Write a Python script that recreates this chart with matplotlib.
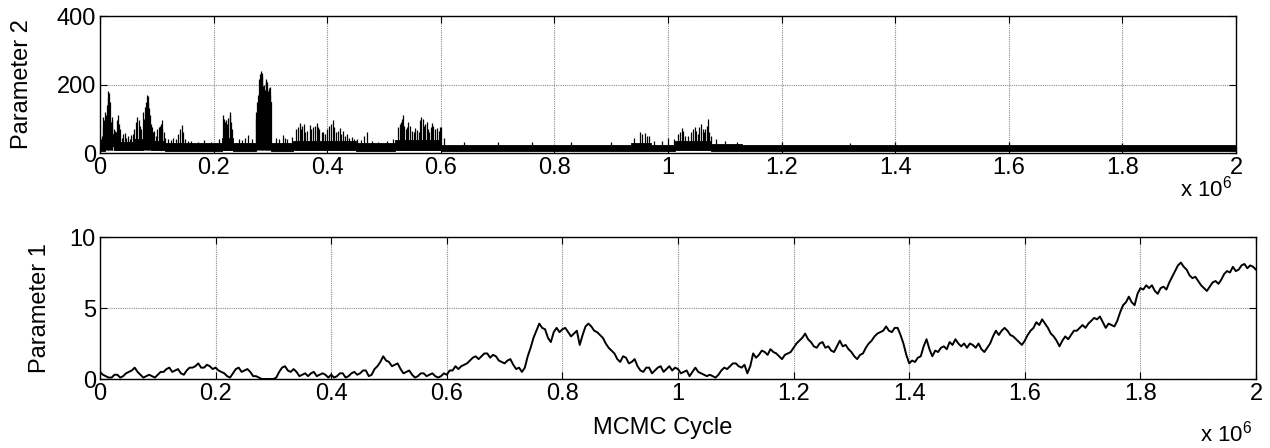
import matplotlib

matplotlib.use('Agg')

import matplotlib.pyplot as plt
import numpy as np

plt.rcParams['font.family'] = ['Liberation Sans', 'DejaVu Sans']
plt.rcParams['mathtext.fontset'] = 'custom'
plt.rcParams['mathtext.rm'] = 'Liberation Sans'

# parameter 1 trace: values on the 10000-cycle grid and the points halfway between
p1_value = [
    0.5, 0.2, 0.1, 0.3, 0.2, 0.5, 0.8, 0.3, 0.2, 0.2,
    0.3, 0.5, 0.8, 0.6, 0.4, 0.6, 0.8, 1.1, 0.8, 0.9,
    0.8, 0.5, 0.2, 0.4, 0.8, 0.6, 0.5, 0.2, 0.0, 0.0,
    0.0, 0.5, 0.9, 0.5, 0.5, 0.3, 0.2, 0.5, 0.3, 0.3,
    0.3, 0.2, 0.4, 0.2, 0.5, 0.4, 0.6, 0.3, 0.9, 1.6,
    1.2, 1.0, 0.7, 0.5, 0.3, 0.2, 0.4, 0.3, 0.2, 0.2,
    0.3, 0.6, 0.7, 1.0, 1.3, 1.6, 1.6, 1.8, 1.7, 1.3,
    1.1, 1.4, 0.7, 0.5, 1.6, 2.9, 3.9, 3.5, 2.6, 3.6,
    3.5, 3.3, 3.2, 2.4, 3.7, 3.7, 3.3, 2.9, 2.2, 1.8,
    1.2, 1.5, 1.2, 0.9, 0.5, 0.8, 0.6, 0.9, 0.7, 0.6,
    0.7, 0.5, 0.2, 0.8, 0.4, 0.2, 0.2, 0.3, 0.8, 0.9,
    1.1, 0.8, 0.4, 1.8, 1.7, 1.9, 2.1, 1.8, 1.4, 1.8,
    2.2, 2.7, 3.2, 2.6, 2.2, 2.6, 2.3, 1.9, 2.7, 2.4,
    1.9, 1.4, 1.8, 2.5, 3.0, 3.3, 3.7, 3.3, 3.6, 2.5,
    1.1, 1.2, 1.6, 2.8, 1.6, 1.9, 2.3, 2.6, 2.8, 2.3,
    2.2, 2.4, 2.5, 1.9, 2.5, 3.4, 3.4, 3.4, 3.0, 2.6,
    2.7, 3.4, 4.0, 4.2, 3.6, 3.0, 2.3, 3.0, 3.1, 3.4,
    3.8, 3.9, 4.3, 4.4, 3.6, 3.8, 4.1, 5.2, 5.8, 5.2,
    6.4, 6.6, 6.6, 6.0, 6.5, 6.8, 7.6, 8.2, 7.7, 7.1,
    6.9, 6.4, 6.5, 6.9, 7.0, 7.6, 7.9, 7.7, 8.1, 8.0,
    7.7,
]
p1_mid = [
    0.3, 0.1, 0.3, 0.1, 0.4, 0.6, 0.5, 0.1, 0.3, 0.1,
    0.5, 0.7, 0.5, 0.7, 0.3, 0.8, 0.9, 0.8, 1.0, 0.7,
    0.6, 0.4, 0.1, 0.7, 0.5, 0.7, 0.2, 0.1, 0.0, 0.0,
    0.1, 0.8, 0.6, 0.7, 0.2, 0.4, 0.4, 0.2, 0.4, 0.1,
    0.1, 0.4, 0.1, 0.4, 0.3, 0.6, 0.2, 0.7, 1.2, 1.3,
    0.9, 1.1, 0.4, 0.6, 0.1, 0.4, 0.2, 0.4, 0.1, 0.4,
    0.6, 0.9, 0.9, 1.1, 1.5, 1.4, 1.8, 1.5, 1.6, 1.2,
    1.3, 1.0, 0.8, 0.8, 2.2, 3.4, 3.6, 2.9, 3.3, 3.3,
    3.6, 3.0, 3.4, 3.1, 3.9, 3.4, 3.1, 2.5, 2.0, 1.4,
    1.6, 1.1, 1.4, 0.6, 0.8, 0.4, 0.8, 0.5, 0.9, 0.8,
    0.4, 0.6, 0.5, 0.5, 0.3, 0.3, 0.1, 0.6, 0.7, 1.1,
    0.9, 1.0, 0.9, 1.5, 2.0, 1.7, 1.9, 1.6, 1.7, 1.9,
    2.5, 2.9, 2.8, 2.3, 2.5, 2.2, 2.0, 2.3, 2.3, 2.1,
    1.6, 1.7, 2.2, 2.7, 3.2, 3.4, 3.4, 3.6, 3.1, 1.7,
    1.3, 1.5, 2.3, 2.1, 2.0, 2.2, 2.1, 2.4, 2.5, 2.5,
    2.5, 2.2, 2.1, 2.2, 3.0, 3.1, 3.6, 3.1, 2.8, 2.4,
    3.1, 3.6, 3.8, 3.9, 3.2, 2.7, 2.7, 2.8, 3.4, 3.6,
    3.6, 4.1, 4.2, 4.0, 3.9, 3.7, 4.7, 5.4, 5.4, 6.0,
    6.3, 6.4, 6.2, 6.4, 6.3, 7.2, 8.0, 7.9, 7.3, 7.2,
    6.6, 6.2, 6.8, 6.7, 7.4, 7.5, 7.6, 8.0, 7.8, 7.9,
]

# parameter 2: dense band of the chain (piecewise lo/hi) plus excursions
p2_band_edge = [0.000, 0.008, 0.024, 0.060, 0.075, 0.090, 0.115, 0.215, 0.235,
                0.274, 0.279, 0.301, 0.340, 0.450, 0.520, 0.600, 0.935, 0.970,
                1.012, 1.075, 1.130, 2.000]
p2_band_lo = [6, 20, 8, 10, 15, 8, 6, 8, 6, 15, 100, 6, 8, 6, 8, 6, 6, 6, 8, 6, 6]
p2_band_hi = [35, 55, 32, 40, 50, 35, 28, 45, 28, 60, 150, 28, 35, 28, 38, 22, 28, 22,
              35, 25, 22]

p2_spike_cycle = [
    0.003, 0.006, 0.009, 0.012, 0.0146, 0.017, 0.0205, 0.024, 0.028, 0.032,
    0.036, 0.040, 0.044, 0.049, 0.055, 0.060, 0.063, 0.066, 0.070, 0.076,
    0.079, 0.082, 0.085, 0.088, 0.091, 0.095, 0.100, 0.105, 0.1085, 0.112,
    0.120, 0.128, 0.138, 0.1438, 0.150, 0.160, 0.172, 0.183, 0.195, 0.210,
    0.216, 0.220, 0.223, 0.226, 0.229, 0.232, 0.245, 0.256, 0.261, 0.268,
    0.274, 0.277, 0.280, 0.283, 0.286, 0.289, 0.2915, 0.2935, 0.296, 0.299,
    0.301, 0.310, 0.3227, 0.330, 0.338, 0.345, 0.352, 0.356, 0.3615, 0.3697,
    0.375, 0.3815, 0.386, 0.390, 0.397, 0.404, 0.4096, 0.415, 0.4225, 0.428,
    0.435, 0.443, 0.452, 0.4695, 0.478, 0.490, 0.505, 0.515, 0.525, 0.530,
    0.534, 0.538, 0.543, 0.549, 0.555, 0.561, 0.566, 0.570, 0.575, 0.580,
    0.584, 0.590, 0.593, 0.600, 0.605, 0.640, 0.700, 0.760, 0.830, 0.900,
    0.940, 0.951, 0.960, 0.966, 0.975, 0.990, 1.000, 1.010, 1.018, 1.024,
    1.030, 1.040, 1.0475, 1.052, 1.058, 1.063, 1.066, 1.071, 1.076, 1.085,
    1.100, 1.121, 1.200, 1.320, 1.400, 1.600, 1.800,
    0.001, 0.005, 0.0075, 0.0105, 0.0135, 0.0155, 0.019, 0.022, 0.026, 0.030,
    0.034, 0.038, 0.046, 0.052, 0.058, 0.068, 0.073, 0.078, 0.081, 0.084,
    0.087, 0.090, 0.093, 0.098, 0.103, 0.107, 0.110, 0.115, 0.125, 0.133,
    0.141, 0.146, 0.155, 0.218, 0.221, 0.224, 0.228, 0.231, 0.250, 0.2755,
    0.278, 0.2815, 0.2845, 0.2875, 0.2905, 0.2925, 0.295, 0.2975, 0.300, 0.316,
    0.326, 0.348, 0.354, 0.359, 0.365, 0.372, 0.378, 0.384, 0.393, 0.400,
    0.407, 0.412, 0.419, 0.425, 0.432, 0.439, 0.447, 0.460, 0.465, 0.528,
    0.532, 0.536, 0.541, 0.546, 0.552, 0.558, 0.564, 0.568, 0.572, 0.578,
    0.582, 0.587, 0.596, 0.598, 0.955, 0.963, 1.021, 1.027, 1.035, 1.044,
    1.050, 1.055, 1.061, 1.068, 1.073,
]
p2_spike_top = [
    50, 106, 120, 140, 182, 150, 106, 70, 60, 110,
    70, 55, 57, 50, 53, 70, 90, 106, 80, 120,
    135, 169, 150, 110, 77, 65, 70, 80, 96, 60,
    40, 45, 55, 82, 40, 35, 33, 38, 32, 40,
    111, 90, 80, 102, 121, 70, 40, 45, 53, 40,
    100, 150, 215, 240, 225, 200, 215, 208, 180, 194,
    150, 45, 53, 40, 47, 70, 87, 80, 60, 82,
    75, 87, 70, 60, 55, 80, 96, 60, 72, 63,
    55, 47, 40, 60, 35, 33, 35, 40, 77, 90,
    111, 70, 91, 65, 72, 60, 106, 80, 91, 60,
    87, 70, 72, 77, 45, 33, 32, 33, 32, 33,
    45, 62, 57, 50, 35, 35, 45, 40, 55, 72,
    50, 60, 76, 55, 85, 60, 70, 99, 50, 40,
    35, 33, 32, 30, 32, 32, 30,
    40, 80, 95, 110, 160, 175, 90, 95, 65, 95,
    85, 45, 45, 40, 55, 95, 70, 100, 150, 165,
    130, 85, 60, 50, 75, 85, 70, 45, 38, 42,
    70, 60, 35, 100, 95, 85, 110, 90, 38, 120,
    170, 230, 235, 195, 185, 210, 170, 190, 170, 40,
    45, 75, 70, 85, 65, 70, 80, 75, 62, 70,
    85, 75, 65, 55, 50, 45, 40, 38, 50, 85,
    100, 80, 75, 80, 60, 68, 95, 100, 85, 70,
    75, 80, 65, 75, 55, 50, 60, 65, 50, 70,
    65, 75, 70, 80, 60,
]

fig = plt.figure(figsize=(12.7, 4.48), dpi=100)
ax_top = fig.add_axes([100 / 1270, 1 - 153 / 448, 1136 / 1270, 137 / 448])
ax_bot = fig.add_axes([100 / 1270, 1 - 379 / 448, 1156 / 1270, 142 / 448])

# top panel: parameter 2
edge = np.array(p2_band_edge) * 1e6
lo = list(p2_band_lo) + [p2_band_lo[-1]]
hi = list(p2_band_hi) + [p2_band_hi[-1]]
ax_top.fill_between(edge, lo, hi, step='post', color='black', lw=0.6, zorder=3)
ax_top.vlines(np.array(p2_spike_cycle) * 1e6, 10, p2_spike_top, color='black',
              lw=0.9, zorder=3)
ax_top.set_ylim(0, 400)
ax_top.set_yticks([0, 200, 400])

# bottom panel: parameter 1, main grid points interleaved with the half steps
p1_cycle = np.linspace(0, 2e6, 401)
p1_trace = np.empty(401)
p1_trace[0::2] = p1_value
p1_trace[1::2] = p1_mid
ax_bot.plot(p1_cycle, p1_trace, color='black', lw=1.4, zorder=3)
ax_bot.set_ylim(0, 10)
ax_bot.set_yticks([0, 5, 10])

xt = np.arange(0, 2.0001e6, 0.2e6)
for ax in (ax_top, ax_bot):
    ax.set_xlim(0, 2e6)
    ax.set_xticks(xt)
    ax.set_xticklabels([f'{v / 1e6:g}' for v in xt])
    ax.grid(True, color='#8c8c8c', linestyle=(0, (1, 1)), lw=0.8, zorder=0)
    ax.tick_params(direction='in', top=True, right=True, length=5, width=0.8,
                   labelsize=17, pad=3)
    for s in ax.spines.values():
        s.set_linewidth(1.0)
        s.set_zorder(4)

fig.text(1232 / 1270, 1 - 196 / 448, r'x 10$^{6}$', fontsize=16, ha='right', va='baseline')
fig.text(1252 / 1270, 1 - 441 / 448, r'x 10$^{6}$', fontsize=16, ha='right', va='baseline')
fig.text(663 / 1270, 1 - 428 / 448, 'MCMC Cycle', fontsize=17, ha='center', va='center')
fig.text(22 / 1270, 1 - 84 / 448, 'Parameter 2', fontsize=17, rotation=90,
         ha='center', va='center')
fig.text(40 / 1270, 1 - 308 / 448, 'Parameter 1', fontsize=17, rotation=90,
         ha='center', va='center')

fig.savefig('out.png', dpi=100)
